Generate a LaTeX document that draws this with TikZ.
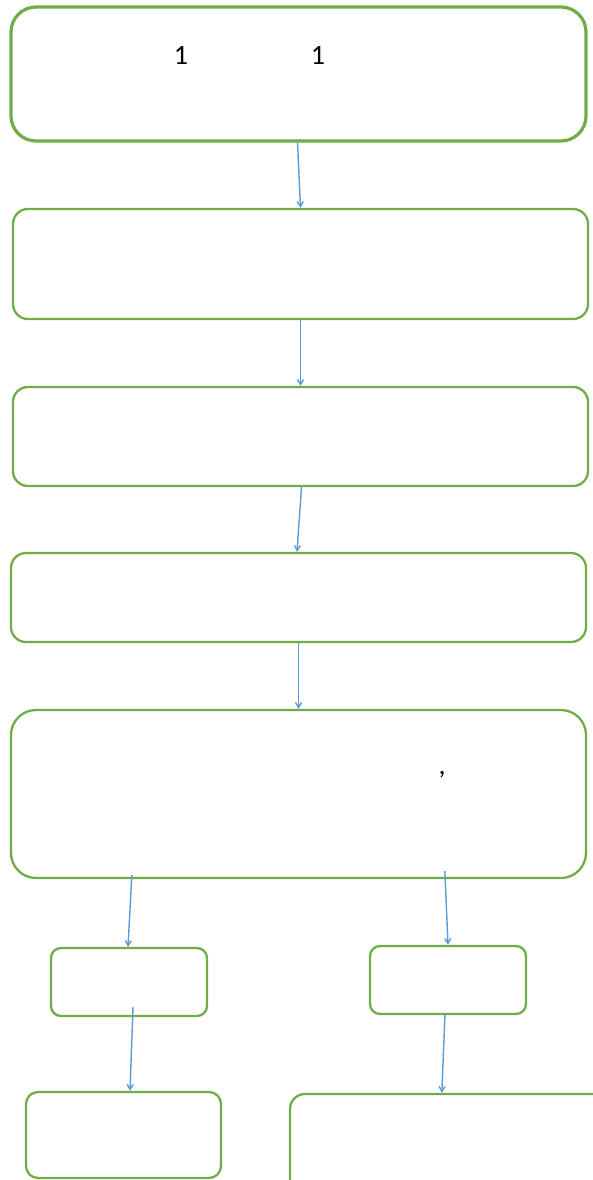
\documentclass[tikz,border=0pt]{standalone}
\usepackage{fontspec}
\setmainfont{Carlito}
\usetikzlibrary{arrows.meta,positioning,calc}
\definecolor{flowgreen}{HTML}{70AD47}
\definecolor{flowblue}{HTML}{5B9BD5}
\tikzstyle{stage} = [draw=flowgreen, line width=2.3pt, rounded corners=15pt, fill=white, inner sep=0pt]
\tikzstyle{flow} = [-{Straight Barb[length=5pt,width=6pt]}, line width=1.4pt, flowblue]

\begin{document}
\begin{tikzpicture}[x=1pt,y=-1pt]
\useasboundingbox (0,0) rectangle (592,1180);
\node[stage, line width=3.2pt, rounded corners=25pt, minimum width=575pt, minimum height=134pt] (intro) at (298.5,74) {};
\node[font=\fontsize{28}{32}\selectfont] (introa) at (181,55) {1};
\node[font=\fontsize{28}{32}\selectfont] (introb) at (318,55) {1};
\node[stage, minimum width=575pt, minimum height=110pt] (stepb) at (300.5,264) {};
\node[stage, minimum width=575pt, minimum height=99pt] (stepc) at (300.5,436.5) {};
\node[stage, minimum width=575pt, minimum height=89pt] (stepd) at (298.5,597.5) {};
\node[stage, rounded corners=25pt, minimum width=575pt, minimum height=168pt] (stepe) at (298.5,794) {};
\node[font=\fontsize{28}{32}\selectfont] (comma) at (442,775) {,};
\node[stage, rounded corners=10pt, minimum width=156pt, minimum height=68pt] (leftb) at (129,982) {};
\node[stage, rounded corners=10pt, minimum width=156pt, minimum height=68pt] (rightb) at (448,980) {};
\node[stage, rounded corners=12pt, minimum width=195pt, minimum height=86pt] (leftc) at (123.5,1135) {};
\node[stage, rounded corners=15pt, minimum width=320pt, minimum height=110pt] (rightc) at (450,1149) {};

\draw[flow] ([xshift=-1pt]intro.south) -- (stepb.north);
\draw[flow] (stepb.south) -- (stepc.north);
\draw[flow] ([xshift=1pt]stepc.south) -- ([xshift=-1.5pt]stepd.north);
\draw[flow] (stepd.south) -- (stepe.north);
\draw[flow] ($(stepe.south west)+(122,-4)$) -- ([xshift=-1pt]leftb.north);
\draw[flow] ($(stepe.south west)+(435,-8)$) -- (rightb.north);
\draw[flow] ($(leftb.south)+(4,-10)$) -- ([xshift=6.5pt]leftc.north);
\draw[flow] ($(rightb.south)+(-3,-2)$) -- ($(rightc.north west)+(153,0)$);
\end{tikzpicture}
\end{document}
